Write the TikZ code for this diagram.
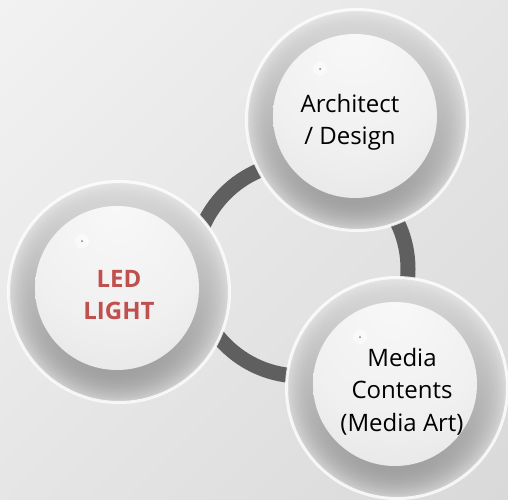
\documentclass[tikz,border=0pt]{standalone}
\usepackage{fontspec}
\setmainfont{Open Sans}
\definecolor{bgA}{HTML}{F7F7F7}
\definecolor{bgB}{HTML}{D4D4D4}
\definecolor{ringgray}{HTML}{5F5F5F}
\definecolor{ledred}{HTML}{C0504D}
\definecolor{bandTO}{HTML}{E6E6E6}
\definecolor{bandTI}{HTML}{D3D3D3}
\definecolor{bandMO}{HTML}{DCDCDC}
\definecolor{bandMI}{HTML}{C2C2C2}
\definecolor{bandBO}{HTML}{CFCFCF}
\definecolor{bandBI}{HTML}{A0A0A0}
\definecolor{diskA}{HTML}{F8F8F8}
\definecolor{diskB}{HTML}{F0F0F0}
\definecolor{diskC}{HTML}{DDDDDD}
\definecolor{diskD}{HTML}{CCCCCC}
\pgfdeclareverticalshading{bgshade}{100bp}{color(0bp)=(bgB); color(100bp)=(bgA)}
\pgfdeclareradialshading{diskshade}{\pgfpoint{0bp}{25bp}}{color(0bp)=(diskA); color(28bp)=(diskB); color(58bp)=(diskC); color(76bp)=(diskD); color(90bp)=(diskD)}
\newcommand\spherebody[2]{%
  \foreach \i in {0,...,19}{
    \pgfmathsetmacro\tt{\i/19}
    \pgfmathsetmacro\rr{111-29*\tt}
    \pgfmathtruncatemacro\pp{100*(1-\tt)^2}
    \shade[top color=bandTO!\pp!bandTI, middle color=bandMO!\pp!bandMI, bottom color=bandBO!\pp!bandBI] ({#1-2*\tt},{#2-4*\tt}) circle[radius=\rr];
  }
  \shade[shading=diskshade] ({#1-2},{#2-4}) circle[radius=82];
  \draw[white, line width=3pt, opacity=0.8] (#1,#2) circle[radius=110.5];
  \fill[white, opacity=0.5] ({#1-37},{#2-51}) circle[radius=7];
  \fill[black!50] ({#1-37},{#2-51}) circle[radius=1];
}
\tikzset{
  lbl/.style={align=center, inner sep=0pt, font=\fontsize{24}{32.5}\selectfont},
  ringline/.style={draw=ringgray, line width=15pt}
}
\begin{document}
\begin{tikzpicture}[x=1pt, y=-1pt]
  \useasboundingbox (0,0) rectangle (508,499);
  \shade[shading=bgshade, shading angle=45] (0,0) rectangle (508,499);
  \coordinate (hub) at (301,269);
  \coordinate (ctop) at (357,120);
  \coordinate (cleft) at (119,292);
  \coordinate (cbot) at (397,388);
  \draw[ringline] (hub) circle[radius=107];
  \spherebody{357}{120}
  \spherebody{119}{292}
  \spherebody{397}{388}
  \node[lbl, text=black] (arch) at (350,122.5) {Architect\\/ Design};
  \node[lbl, text=ledred, font=\fontsize{24}{32}\selectfont\bfseries] (led) at (119,295.5) {LED\\LIGHT};
  \node[lbl, text=black] (media) at (402,391.3) {Media\\Contents\\(Media Art)};
\end{tikzpicture}
\end{document}
